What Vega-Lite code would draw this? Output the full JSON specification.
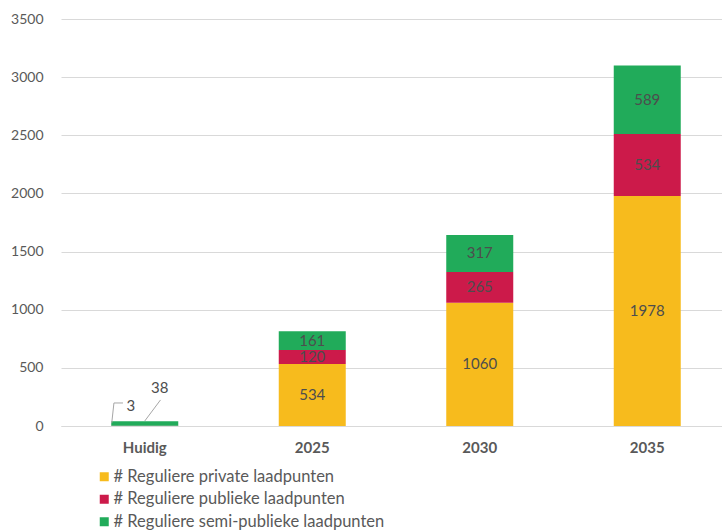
{
  "$schema": "https://vega.github.io/schema/vega-lite/v6.json",
  "autosize": {"type": "none"},
  "padding": {"left": 61, "top": 19, "right": 0, "bottom": 104},
  "width": 661,
  "height": 407,
  "background": "white",
  "config": {"font": "Lato", "view": {"stroke": null}},
  "data": {
    "values": [
      {"cat": "Huidig", "serie": "# Reguliere private laadpunten", "waarde": 0},
      {"cat": "Huidig", "serie": "# Reguliere publieke laadpunten", "waarde": 3},
      {"cat": "Huidig", "serie": "# Reguliere semi-publieke laadpunten", "waarde": 38},
      {"cat": "2025", "serie": "# Reguliere private laadpunten", "waarde": 534},
      {"cat": "2025", "serie": "# Reguliere publieke laadpunten", "waarde": 120},
      {"cat": "2025", "serie": "# Reguliere semi-publieke laadpunten", "waarde": 161},
      {"cat": "2030", "serie": "# Reguliere private laadpunten", "waarde": 1060},
      {"cat": "2030", "serie": "# Reguliere publieke laadpunten", "waarde": 265},
      {"cat": "2030", "serie": "# Reguliere semi-publieke laadpunten", "waarde": 317},
      {"cat": "2035", "serie": "# Reguliere private laadpunten", "waarde": 1978},
      {"cat": "2035", "serie": "# Reguliere publieke laadpunten", "waarde": 534},
      {"cat": "2035", "serie": "# Reguliere semi-publieke laadpunten", "waarde": 589}
    ]
  },
  "layer": [
    {
      "encoding": {
        "x": {
          "field": "cat", "type": "nominal",
          "sort": ["Huidig", "2025", "2030", "2035"],
          "scale": {"range": [0, 670], "paddingInner": 0.6, "paddingOuter": 0.3},
          "axis": {"title": null, "labelAngle": 0, "labelFontWeight": "bold", "labelFontSize": 15, "labelColor": "#595959", "ticks": false, "domainColor": "#d9d9d9", "labelPadding": 14}
        }
      },
      "layer": [
        {
          "mark": {"type": "bar"},
          "encoding": {
            "y": {
              "field": "waarde", "type": "quantitative", "stack": "zero",
              "scale": {"domain": [0, 3500], "nice": false},
              "axis": {"title": null, "format": "d", "values": [0, 500, 1000, 1500, 2000, 2500, 3000, 3500], "labelFontSize": 14, "labelColor": "#595959", "ticks": false, "domain": false, "gridColor": "#d9d9d9", "labelPadding": 18}
            },
            "order": {"field": "serie", "sort": "ascending"},
            "color": {
              "field": "serie", "type": "nominal",
              "scale": {
                "domain": ["# Reguliere private laadpunten", "# Reguliere publieke laadpunten", "# Reguliere semi-publieke laadpunten"],
                "range": ["#F7BB1D", "#CC1A4A", "#21AB5A"]
              },
              "legend": {"orient": "none", "legendX": 35, "legendY": 449.5, "direction": "vertical", "title": null, "symbolType": "square", "symbolSize": 81, "labelFontSize": 16.5, "labelColor": "#595959", "labelLimit": 0, "rowPadding": 5.5, "labelOffset": 1, "padding": 0}
            }
          }
        },
        {
          "transform": [
            {"filter": "datum.cat !== 'Huidig'"},
            {"stack": "waarde", "groupby": ["cat"], "sort": [{"field": "serie", "order": "ascending"}], "as": ["y0", "y1"]},
            {"fold": ["y0", "y1"], "as": ["k", "pos"]},
            {"aggregate": [{"op": "mean", "field": "pos", "as": "mid"}], "groupby": ["cat", "serie", "waarde"]}
          ],
          "mark": {"type": "text", "fontSize": 15, "color": "#4d4d4d", "baseline": "middle"},
          "encoding": {
            "y": {"field": "mid", "type": "quantitative"},
            "text": {"field": "waarde", "type": "quantitative"}
          }
        },
        {
          "transform": [{"filter": "datum.cat === 'Huidig' && datum.waarde === 3"}],
          "mark": {"type": "text", "fontSize": 15, "color": "#4d4d4d", "baseline": "middle", "dx": -14},
          "encoding": {
            "y": {"datum": 172, "type": "quantitative"},
            "text": {"field": "waarde", "type": "quantitative"}
          }
        },
        {
          "transform": [{"filter": "datum.cat === 'Huidig' && datum.waarde === 38"}],
          "mark": {"type": "text", "fontSize": 15, "color": "#4d4d4d", "baseline": "middle", "dx": 15},
          "encoding": {
            "y": {"datum": 327, "type": "quantitative"},
            "text": {"field": "waarde", "type": "quantitative"}
          }
        }
      ]
    },
    {
      "data": {"values": [{"cat": "Huidig"}]},
      "encoding": {
        "x": {"datum": 0, "type": "quantitative", "scale": {"domain": [0, 4], "range": [0, 670], "zero": false, "nice": false}, "axis": null}
      },
      "layer": [
        {
          "mark": {"type": "rule", "color": "#a6a6a6", "strokeWidth": 1},
          "encoding": {"x": {"datum": 0.303, "type": "quantitative"}, "x2": {"datum": 0.316}, "y": {"datum": 26, "type": "quantitative"}, "y2": {"datum": 198}}
        },
        {
          "mark": {"type": "rule", "color": "#a6a6a6", "strokeWidth": 1},
          "encoding": {"x": {"datum": 0.316, "type": "quantitative"}, "x2": {"datum": 0.37}, "y": {"datum": 198, "type": "quantitative"}, "y2": {"datum": 198}}
        },
        {
          "mark": {"type": "rule", "color": "#a6a6a6", "strokeWidth": 1},
          "encoding": {"x": {"datum": 0.5, "type": "quantitative"}, "x2": {"datum": 0.594}, "y": {"datum": 43, "type": "quantitative"}, "y2": {"datum": 224}}
        }
      ]
    }
  ],
  "resolve": {"scale": {"x": "independent"}}
}
